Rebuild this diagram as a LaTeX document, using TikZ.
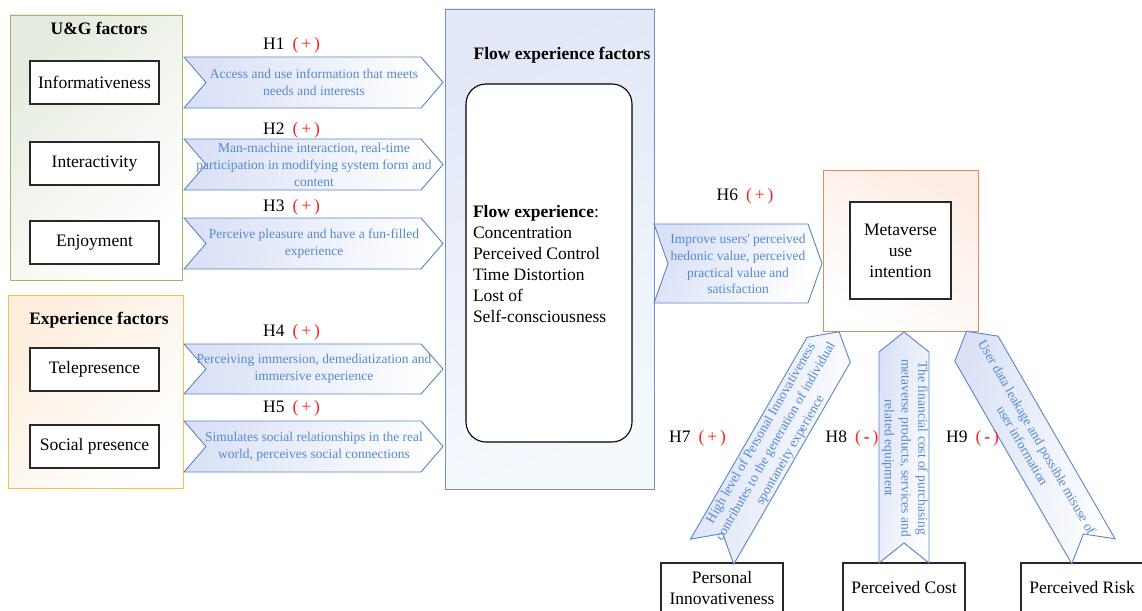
\documentclass[tikz,border=0pt]{standalone}
\usepackage{fontspec}
\setmainfont{Liberation Serif}
\definecolor{chevline}{RGB}{88,134,196}
\definecolor{chevtxt}{RGB}{84,138,204}
\definecolor{chevfill}{RGB}{218,225,246}
\definecolor{ugline}{RGB}{155,187,89}
\definecolor{ugfill}{RGB}{229,236,223}
\definecolor{exline}{RGB}{245,192,80}
\definecolor{exfill}{RGB}{253,238,222}
\definecolor{flline}{RGB}{108,146,200}
\definecolor{flfill}{RGB}{226,232,247}
\definecolor{flfill2}{RGB}{244,249,254}
\definecolor{mvline}{RGB}{226,138,90}
\definecolor{mvfill}{RGB}{253,236,228}
\definecolor{hred}{RGB}{255,30,30}
\definecolor{boxline}{RGB}{40,40,40}
\newcommand{\mychev}[6]{% center, angle, length, width, depth, shading angle (local frame)
  \begin{scope}[shift={#1}, rotate=#2]
    \draw[chev, shading angle=#6] (-#3/2,-#4/2) -- (#3/2-#5,-#4/2) -- (#3/2,0) -- (#3/2-#5,#4/2) -- (-#3/2,#4/2) -- (-#3/2+#5,0) -- cycle;
  \end{scope}}
\begin{document}
\begin{tikzpicture}[x=1pt,y=-1pt,
  every node/.style={inner sep=0pt, outer sep=0pt},
  big/.style={font=\fontsize{17.5}{21}\selectfont},
  fbox/.style={big, draw=boxline, line width=1.1pt, fill=white, minimum width=129pt, minimum height=43pt, align=center},
  bbox/.style={big, draw=boxline, line width=1.1pt, fill=white, minimum width=122pt, minimum height=50pt, align=center},
  gtitle/.style={big, font=\fontsize{17.5}{21}\selectfont\bfseries},
  chev/.style={draw=chevline, line width=0.9pt, top color=chevfill, bottom color=white},
  ctext/.style={font=\fontsize{13.5}{16.8}\selectfont, text=chevtxt, align=center},
  hlab/.style={big}]
\useasboundingbox (0,0) rectangle (1142,610);
\clip (0,0) rectangle (1142,610);
% group boxes
\node[draw=ugline, line width=0.9pt, top color=ugfill, bottom color=white, shading angle=45, minimum width=172pt, minimum height=265pt] (ug) at (96,147.5) {};
\node[gtitle] (ugt) at (99,28) {U\&G factors};
\node[draw=exline, line width=0.9pt, top color=exfill, bottom color=white, shading angle=45, minimum width=175pt, minimum height=193pt] (ex) at (95.5,391.5) {};
\node[gtitle] (ext) at (99,320) {Experience factors};
\node[fbox] (inf) at (94.5,82.5) {Informativeness};
\node[fbox] (int) at (94.5,163.5) {Interactivity};
\node[fbox] (enj) at (94.5,242.5) {Enjoyment};
\node[fbox] (tel) at (94.5,369.5) {Telepresence};
\node[fbox] (soc) at (94.5,446.5) {Social presence};
% flow box
\node[draw=flline, line width=0.9pt, top color=flfill, bottom color=flfill2, shading angle=20, minimum width=209pt, minimum height=480pt] (fl) at (549.5,249) {};
\node[gtitle] (flt) at (562,55) {Flow experience factors};
\node[draw=black, line width=1.1pt, fill=white, rounded corners=20pt, minimum width=166pt, minimum height=358pt] (fe) at (549,263) {};
\node[big, anchor=west, align=left] (fet) at (473,264.5) {\textbf{Flow experience}:\\Concentration\\Perceived Control\\Time Distortion\\Lost of\\Self-consciousness};
% metaverse
\node[draw=mvline, line width=0.9pt, top color=mvfill, bottom color=white, shading angle=-30, minimum width=155pt, minimum height=161pt] (mv) at (900.5,250.5) {};
\node[fbox, minimum width=101pt, minimum height=97pt] (mvi) at (900.5,250.5) {Metaverse\\use\\intention};
% bottom boxes
\node[bbox] (pi) at (722,588) {Personal\\Innovativeness};
\node[bbox] (pc) at (904,588) {Perceived Cost};
\node[bbox] (pr) at (1082,588) {Perceived Risk};
% chevrons
\mychev{(313.5,82.5)}{0}{259}{51}{22}{80}
\mychev{(313.5,164.5)}{0}{259}{51}{22}{80}
\mychev{(313.5,243.5)}{0}{259}{51}{22}{80}
\mychev{(313.5,369)}{0}{259}{50}{22}{80}
\mychev{(313.5,446.5)}{0}{259}{51}{22}{80}
\mychev{(738,263.5)}{0}{168}{79}{14}{60}
\mychev{(775.6,441.7)}{60}{254}{50}{21}{80}
\mychev{(904,447.5)}{90}{231}{50}{20}{80}
\mychev{(1029.9,441.3)}{120}{254}{50}{20}{80}
% chevron texts
\node[ctext] (c1) at (314,82.5) {Access and use information that meets\\needs and interests};
\node[ctext] (c2) at (314,165) {Man-machine interaction, real-time\\participation in modifying system form and\\content};
\node[ctext] (c3) at (314,243.5) {Perceive pleasure and have a fun-filled\\experience};
\node[ctext] (c4) at (314,369) {Perceiving immersion, demediatization and\\immersive experience};
\node[ctext] (c5) at (314,446.5) {Simulates social relationships in the real\\world, perceives social connections};
\node[ctext] (c6) at (738,264) {Improve users\textquotesingle{} perceived\\hedonic value, perceived\\practical value and\\satisfaction};
\node[ctext, rotate=60] (c7) at (776,442) {High level of Personal Innovativeness\\contributes to the generation of individual\\spontaneity experience};
\node[ctext, rotate=-90] (c8) at (905,448) {The financial cost of purchasing\\metaverse products, services and\\related equipment};
\node[ctext, rotate=-60] (c9) at (1030,441.5) {User data leakage and possible misuse of\\user information};
% labels
\node[hlab] (l1) at (291.5,45) {H1\hspace{8pt}\textcolor{hred}{(\,+\,)}};
\node[hlab] (l2) at (291.5,130) {H2\hspace{8pt}\textcolor{hred}{(\,+\,)}};
\node[hlab] (l3) at (291.5,207) {H3\hspace{8pt}\textcolor{hred}{(\,+\,)}};
\node[hlab] (l4) at (291.5,332.5) {H4\hspace{8pt}\textcolor{hred}{(\,+\,)}};
\node[hlab] (l5) at (291.5,408.5) {H5\hspace{8pt}\textcolor{hred}{(\,+\,)}};
\node[hlab] (l6) at (745,196) {H6\hspace{8pt}\textcolor{hred}{(\,+\,)}};
\node[hlab] (l7) at (697.5,438) {H7\hspace{8pt}\textcolor{hred}{(\,+\,)}};
\node[hlab] (l8) at (852,438) {H8\hspace{8pt}\textcolor{hred}{(\,\textbf{-}\,)}};
\node[hlab] (l9) at (972.5,438) {H9\hspace{8pt}\textcolor{hred}{(\,\textbf{-}\,)}};
\end{tikzpicture}
\end{document}
